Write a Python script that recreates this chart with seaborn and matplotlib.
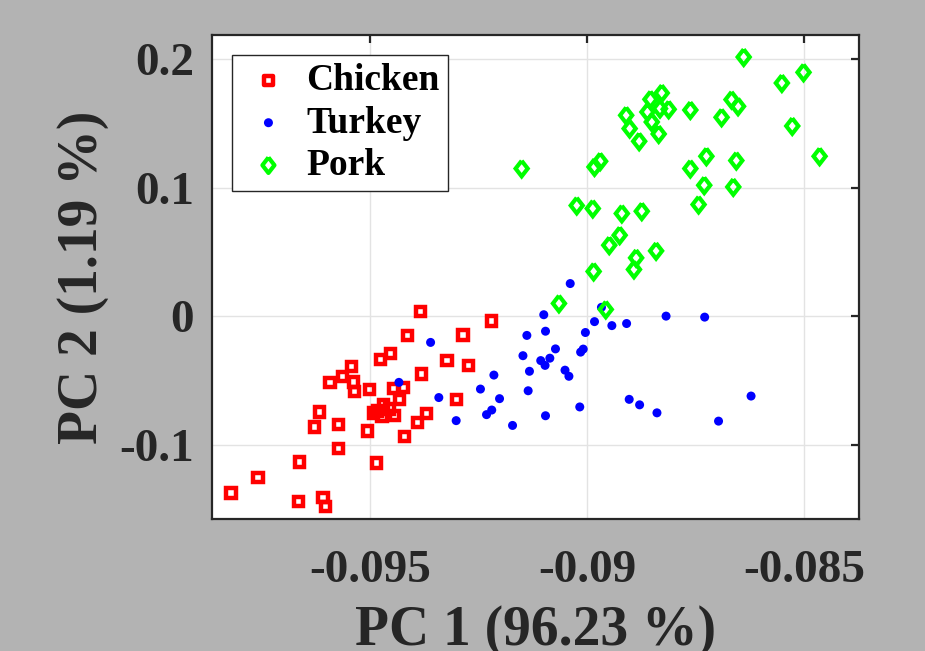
import matplotlib
matplotlib.use("Agg")
import matplotlib.pyplot as plt
import seaborn as sns

# PCA scores
chicken_pc1 = [-0.09384, -0.09221, -0.09415, -0.09286, -0.09454, -0.09477, -0.09323, -0.09544,
               -0.09273, -0.09565, -0.09593, -0.09538, -0.09382, -0.09501, -0.09537, -0.09446,
               -0.09424, -0.09433, -0.09302, -0.09470, -0.09484, -0.09456, -0.09492, -0.09473,
               -0.09444, -0.09370, -0.09392, -0.09618, -0.09629, -0.09574, -0.09506, -0.09421,
               -0.09574, -0.09663, -0.09486, -0.09759, -0.09821, -0.09666, -0.09609, -0.09604]
chicken_pc2 = [0.00366, -0.00374, -0.01518, -0.01463, -0.02895, -0.03385, -0.03479, -0.03930,
               -0.03837, -0.04700, -0.05144, -0.05136, -0.04514, -0.05696, -0.05852, -0.05665,
               -0.05564, -0.06506, -0.06482, -0.06903, -0.07393, -0.07230, -0.07549, -0.07813,
               -0.07743, -0.07580, -0.08296, -0.07471, -0.08638, -0.08451, -0.08949, -0.09393,
               -0.10335, -0.11362, -0.11432, -0.12599, -0.13774, -0.14428, -0.14132, -0.14802]

turkey_pc1 = [-0.09361, -0.09434, -0.09342, -0.09302, -0.09246, -0.09215, -0.09202, -0.09232,
              -0.09220, -0.09172, -0.09139, -0.09148, -0.09133, -0.09136, -0.09100, -0.09096,
              -0.09107, -0.09097, -0.09086, -0.09073, -0.09096, -0.09051, -0.09042, -0.09039,
              -0.09017, -0.09015, -0.09009, -0.09004, -0.08983, -0.08967, -0.08943, -0.08909,
              -0.08903, -0.08879, -0.08839, -0.08818, -0.08729, -0.08697, -0.08622]
turkey_pc2 = [-0.02047, -0.05160, -0.06342, -0.08140, -0.05681, -0.04591, -0.06428, -0.07673,
              -0.07315, -0.08514, -0.01502, -0.03082, -0.04296, -0.05813, 0.00109, -0.01175,
              -0.03463, -0.03837, -0.03276, -0.02552, -0.07759, -0.04210, -0.04685, 0.02537,
              -0.07074, -0.02802, -0.02568, -0.01276, -0.00428, 0.00685, -0.00739, -0.00576,
              -0.06482, -0.06910, -0.07533, 0.00000, -0.00078, -0.08179, -0.06226]

pork_pc1 = [-0.08639, -0.08501, -0.08551, -0.08527, -0.08464, -0.08667, -0.08652, -0.08690,
            -0.08762, -0.08828, -0.08854, -0.08861, -0.08832, -0.08812, -0.08851, -0.08835,
            -0.08910, -0.08902, -0.08880, -0.08725, -0.08656, -0.08762, -0.08730, -0.08663,
            -0.08743, -0.09151, -0.08983, -0.08970, -0.09024, -0.08987, -0.08920, -0.08874,
            -0.08925, -0.08949, -0.08841, -0.08887, -0.08892, -0.08985, -0.09065, -0.08957]
pork_pc2 = [0.20179, 0.18988, 0.18155, 0.14809, 0.12451, 0.16864, 0.16342, 0.15486,
            0.16054, 0.17377, 0.16887, 0.15899, 0.16163, 0.16109, 0.15120, 0.14187,
            0.15642, 0.14607, 0.13619, 0.12451, 0.12117, 0.11494, 0.10194, 0.10062,
            0.08692, 0.11494, 0.11618, 0.12062, 0.08615, 0.08381, 0.07992, 0.08171,
            0.06303, 0.05525, 0.05082, 0.04537, 0.03634, 0.03479, 0.00988, 0.00521]

x_ticks = [-0.095, -0.09, -0.085]
x_tick_labels = ["-0.095", "-0.09", "-0.085"]
y_ticks = [-0.1, 0, 0.1, 0.2]
y_tick_labels = ["-0.1", "0", "0.1", "0.2"]

sns.set_style("white")
plt.rcParams["font.family"] = ["Liberation Serif", "DejaVu Serif"]
plt.rcParams["font.weight"] = "bold"

fig = plt.figure(figsize=(9.25, 6.51), dpi=100, facecolor="#b3b3b3")
ax = fig.add_axes([0.2292, 0.2028, 0.6995, 0.7435])
ax.set_facecolor("white")

# MATLAB-like diamond
diamond = [(0, 1), (0.78, 0), (0, -1), (-0.78, 0), (0, 1)]

sns.scatterplot(x=chicken_pc1, y=chicken_pc2, ax=ax, marker="s", s=44,
                color="#ff0000", facecolor="none", edgecolor="#ff0000",
                linewidth=3.2, joinstyle="miter", label="Chicken", zorder=3)
sns.scatterplot(x=turkey_pc1, y=turkey_pc2, ax=ax, marker="o", s=42,
                color="#0000ff", edgecolor="none", linewidth=0,
                label="Turkey", zorder=4)
sns.scatterplot(x=pork_pc1, y=pork_pc2, ax=ax, marker=diamond, s=125,
                color="#00ff00", facecolor="none", edgecolor="#00ff00",
                linewidth=3.0, joinstyle="miter", label="Pork", zorder=5)

ax.set_xlim(-0.09865, -0.08373)
ax.set_ylim(-0.158, 0.219)
ax.set_xticks(x_ticks)
ax.set_xticklabels(x_tick_labels)
ax.set_yticks(y_ticks)
ax.set_yticklabels(y_tick_labels)

ax.grid(True, color="#e3e3e3", linewidth=1.0, zorder=0)
ax.set_axisbelow(True)
for sp in ax.spines.values():
    sp.set_visible(True)
    sp.set_color("#262626")
    sp.set_linewidth(1.6)

ax.tick_params(axis="both", direction="in", length=6, width=1.6,
               color="#262626", labelcolor="#262626", labelsize=34,
               top=True, right=True)
ax.tick_params(axis="y", pad=13)
ax.tick_params(axis="x", pad=22)
for lab in ax.get_xticklabels() + ax.get_yticklabels():
    lab.set_fontweight("bold")

ax.set_xlabel("PC 1 (96.23 %)", fontsize=40, fontweight="bold", color="#262626", va="center")
ax.set_ylabel("PC 2 (1.19 %)", fontsize=40, fontweight="bold", color="#262626", va="center")
ax.xaxis.set_label_coords(0.5, -0.232)
ax.yaxis.set_label_coords(-0.1994, 0.5)

leg = ax.legend(loc="upper left", bbox_to_anchor=(0.031, 0.959), borderaxespad=0,
                fontsize=27, frameon=True, fancybox=False, framealpha=1,
                edgecolor="#262626", handlelength=1.5, handletextpad=0.25,
                labelspacing=0.2, borderpad=0.22)
leg.get_frame().set_linewidth(1.0)
for t in leg.get_texts():
    t.set_fontweight("bold")
    t.set_color("black")

fig.savefig("out.png", dpi=100, facecolor=fig.get_facecolor())
